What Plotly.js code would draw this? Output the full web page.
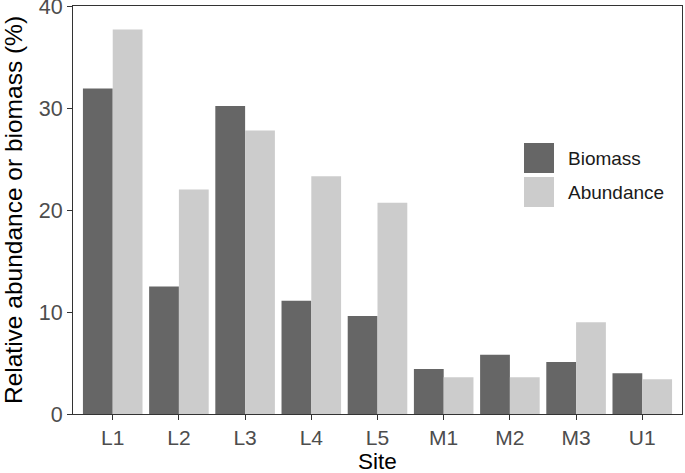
<!DOCTYPE html>
<html>
<head>
<meta charset="utf-8">
<script src="https://cdn.plot.ly/plotly-3.0.1.min.js"></script>
<style>
  html, body { margin: 0; padding: 0; background: #ffffff; }
  #chart { width: 685px; height: 473px; }
</style>
</head>
<body>
<div id="chart"></div>
<script>
// Sites and values (%)
const sites = ['L1', 'L2', 'L3', 'L4', 'L5', 'M1', 'M2', 'M3', 'U1'];
const biomass = [31.9, 12.5, 30.2, 11.1, 9.6, 4.4, 5.8, 5.1, 4.0];
const abundance = [37.7, 22.0, 27.8, 23.3, 20.7, 3.6, 3.6, 9.0, 3.4];
const seriesNames = ['Biomass', 'Abundance'];
const seriesColors = ['#666666', '#cccccc'];

const traces = [biomass, abundance].map((vals, i) => ({
    type: 'bar',
    x: sites,
    y: vals,
    name: seriesNames[i],
    marker: { color: seriesColors[i], line: { width: 0 } },
    showlegend: false
}));

// hand made legend with big square keys (like ggplot)
const shapes = [];
const annotations = [];
seriesNames.forEach((name, i) => {
    const top = 143 + i * 34;
    shapes.push({
        type: 'rect', xref: 'paper', yref: 'paper',
        x0: (524 - 73) / 609, x1: (554 - 73) / 609,
        y0: (414 - top - 30) / 408, y1: (414 - top) / 408,
        fillcolor: seriesColors[i], line: { width: 0 }
    });
    annotations.push({
        xref: 'paper', yref: 'paper',
        x: (566 - 73) / 609, y: (414 - top - 15) / 408,
        xanchor: 'left', yanchor: 'middle', showarrow: false,
        text: name, font: { size: 19, color: '#1a1a1a' }
    });
});

// x axis title drawn as annotation so it sits a bit lower
annotations.push({
    xref: 'paper', yref: 'paper',
    x: 0.5, y: -(461 - 414) / 408,
    xanchor: 'center', yanchor: 'middle', showarrow: false,
    text: 'Site', font: { size: 22.5, color: '#000000' }
});

const layout = {
    width: 685,
    height: 473,
    margin: { l: 73, r: 3, t: 6, b: 59 },
    paper_bgcolor: '#ffffff',
    plot_bgcolor: '#ffffff',
    font: { family: 'Liberation Sans, Arial, sans-serif' },
    barmode: 'group',
    bargap: 0.1,
    bargroupgap: 0,
    xaxis: {
        range: [-0.6, 8.6],
        automargin: false,
        showgrid: false,
        showline: true, mirror: true, linecolor: '#333333', linewidth: 1,
        ticks: 'outside', ticklen: 5, tickcolor: '#333333',
        tickfont: { size: 21, color: '#4d4d4d' },
        zeroline: false
    },
    yaxis: {
        title: { text: 'Relative abundance or biomass (%)', font: { size: 24.5, color: '#000000' } },
        range: [0, 40],
        tickvals: [0, 10, 20, 30, 40],
        automargin: false,
        ticklabeloverflow: 'allow',
        showgrid: false,
        showline: true, mirror: true, linecolor: '#333333', linewidth: 1,
        ticks: 'outside', ticklen: 5, tickcolor: '#333333',
        tickfont: { size: 21.5, color: '#4d4d4d' },
        zeroline: false
    },
    shapes: shapes,
    annotations: annotations
};

Plotly.newPlot('chart', traces, layout, { displayModeBar: false, staticPlot: true });
</script>
</body>
</html>
